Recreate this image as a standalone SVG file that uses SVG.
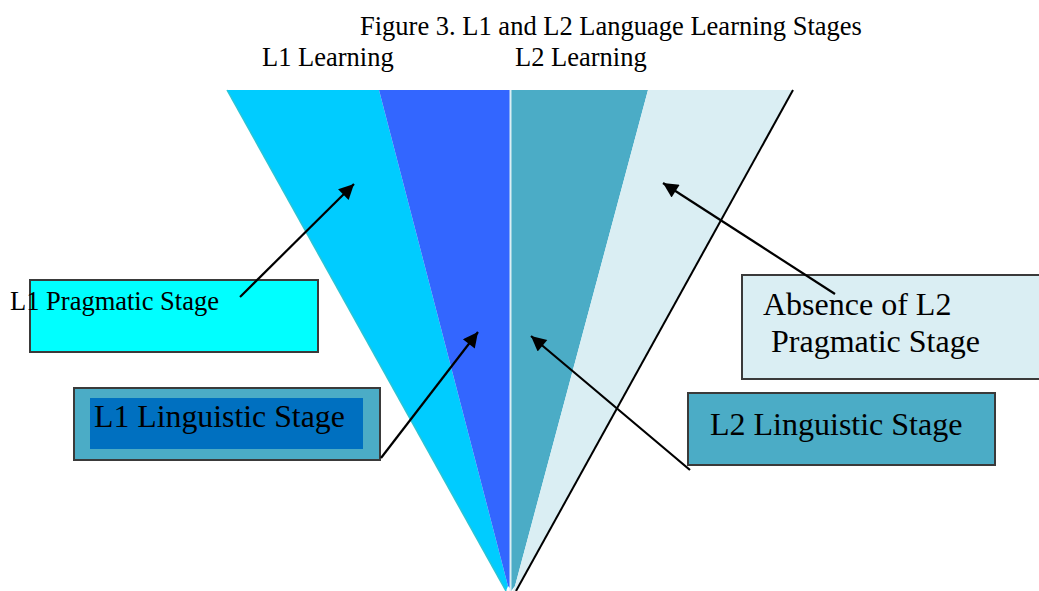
<svg xmlns="http://www.w3.org/2000/svg" width="1039" height="591" viewBox="0 0 1039 591">
<style>
text{font-family:"Liberation Serif","Times New Roman",serif;fill:#000}
.box{stroke:#3a3a3a;stroke-width:2}
.conn{stroke:#000;stroke-width:2.2;fill:none;marker-end:url(#ah)}
</style>
<defs>
<marker id="ah" viewBox="0 0 10 10" refX="10" refY="5" markerWidth="18" markerHeight="15" markerUnits="userSpaceOnUse" orient="auto">
<path d="M0,0 L10,5 L0,10 z" fill="#000"/>
</marker>
</defs>
<rect width="1039" height="591" fill="#fff"/>
<text x="360" y="35" font-size="26.5">Figure 3. L1 and L2 Language Learning Stages</text>
<text x="262" y="66" font-size="26.5">L1 Learning</text>
<text x="515" y="66" font-size="26.5">L2 Learning</text>
<g id="funnel">
<polygon points="227,90 379,90 508,586 506,591" fill="#00CCFF"/>
<line x1="227" y1="90" x2="506" y2="591" stroke="#2CC4D4" stroke-width="1.5"/>
<polygon points="379,90 510,90 510,588 508,586" fill="#3366FF"/>
<polygon points="511,90 648,90 515,586 511,591" fill="#4BACC6"/>
<polygon points="648,90 793,90 516,591 513,591 515,586" fill="#DAEEF3"/>
<line x1="510.5" y1="90" x2="510.5" y2="591" stroke="#DAEEF3" stroke-width="2"/>
<line x1="793" y1="90" x2="516" y2="591" stroke="#000" stroke-width="2"/>
</g>
<g id="l1-pragmatic">
<rect class="box" x="30" y="280" width="288" height="72" fill="#00FFFF"/>
<text x="10" y="310" font-size="26.5">L1 Pragmatic Stage</text>
</g>
<g id="l1-linguistic">
<rect class="box" x="74" y="388" width="306" height="72" fill="#4BACC6"/>
<rect x="90" y="398" width="273" height="51" fill="#0070C0"/>
<text x="94" y="427" font-size="31.8">L1 Linguistic Stage</text>
</g>
<g id="l2-pragmatic">
<rect class="box" x="742" y="275" width="300" height="104" fill="#DAEEF3"/>
<text x="763" y="315" font-size="32">Absence of L2</text>
<text x="771" y="352" font-size="32">Pragmatic Stage</text>
</g>
<g id="l2-linguistic">
<rect class="box" x="688" y="393" width="307" height="72" fill="#4BACC6"/>
<text x="710" y="435" font-size="32">L2 Linguistic Stage</text>
</g>
<g id="connectors">
<line class="conn" x1="240" y1="297" x2="354" y2="184"/>
<line class="conn" x1="381" y1="458" x2="478" y2="332"/>
<line class="conn" x1="690" y1="470" x2="531" y2="336"/>
<line class="conn" x1="835" y1="294" x2="663" y2="183"/>
</g>
</svg>
